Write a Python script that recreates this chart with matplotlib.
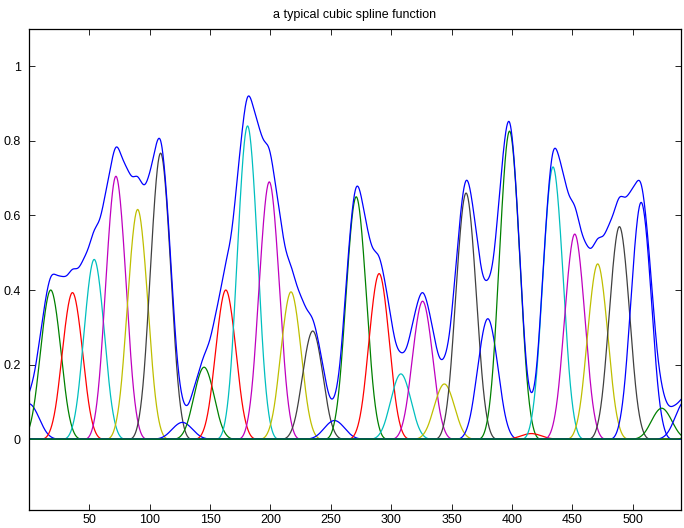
import numpy as np
import matplotlib
matplotlib.use("Agg")
import matplotlib.pyplot as plt

plt.rcParams['font.family'] = ['Liberation Sans', 'DejaVu Sans']

# centres of the individual cubic B-spline pieces
centers = [0, 18, 36, 54, 72, 90, 109, 127, 145, 163, 181, 199, 217, 235,
           253, 271, 290, 308, 326, 344, 362, 380, 398, 416, 434, 452, 471,
           489, 507, 524, 544, 561]
# peak heights of each piece
heights = [0.095, 0.40, 0.393, 0.482, 0.705, 0.616, 0.767, 0.045, 0.193,
           0.40, 0.84, 0.69, 0.395, 0.29, 0.05, 0.65, 0.444, 0.175, 0.37,
           0.148, 0.66, 0.323, 0.826, 0.015, 0.73, 0.55, 0.47, 0.57, 0.635,
           0.083, 0.105, 0.12]
# colour letter of each piece
piece_colors = ['b', 'g', 'r', 'c', 'm', 'y', 'k'] * 4 + ['b', 'g', 'b', 'g']

cmap = {'b': (0, 0, 1), 'g': (0, 0.5, 0), 'r': (1, 0, 0), 'c': (0, 0.75, 0.75),
        'm': (0.75, 0, 0.75), 'y': (0.75, 0.75, 0), 'k': (0.25, 0.25, 0.25)}

title = 'a typical cubic spline function'
xticks = [50, 100, 150, 200, 250, 300, 350, 400, 450, 500]
yticks = [0, 0.2, 0.4, 0.6, 0.8, 1]
ytick_labels = ['0', '0.2', '0.4', '0.6', '0.8', '1']
xlim = (0, 540)
ylim = (-0.19, 1.1)
half_width = 13.4


def bspline(x, c, h):
    t = np.abs(x - c) / h
    y = np.where(t < 1, 1 - 1.5 * t**2 + 0.75 * t**3,
                 np.where(t < 2, (2 - t)**3 / 4, 0.0))
    return y


x = np.linspace(xlim[0], xlim[1], 3000)

fig = plt.figure(figsize=(6.84, 5.28), dpi=100)
ax = fig.add_axes([29 / 684, 1 - 510 / 528, (681 - 29) / 684, (510 - 29) / 528])

total = np.zeros_like(x)
for c, hgt, col in zip(centers, heights, piece_colors):
    y = hgt * bspline(x, c, half_width)
    total += y
    ax.plot(x, y, color=cmap[col], lw=0.9)
ax.plot(x, total, color=cmap['b'], lw=0.9)

ax.set_xlim(*xlim)
ax.set_ylim(*ylim)
ax.set_xticks(xticks)
ax.set_yticks(yticks)
ax.set_yticklabels(ytick_labels)
ax.tick_params(direction='in', length=4.5, width=0.6, labelsize=9,
               top=True, right=True)
ax.tick_params(axis='x', pad=3)
ax.tick_params(axis='y', pad=6)
for s in ax.spines.values():
    s.set_linewidth(0.9)
ax.set_title(title, fontsize=9, pad=8)

fig.savefig('out.png', dpi=100)
